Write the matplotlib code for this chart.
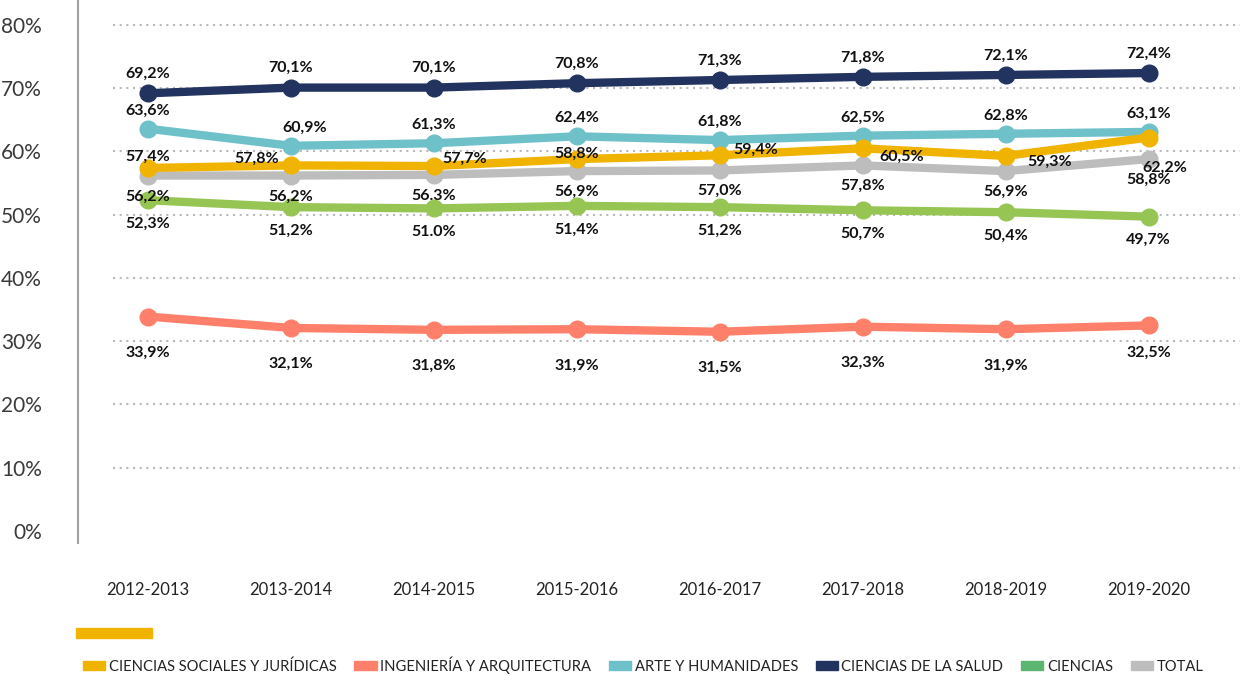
import matplotlib
matplotlib.use("Agg")
import matplotlib.pyplot as plt
from matplotlib.patches import Rectangle

cursos = ["2012-2013", "2013-2014", "2014-2015", "2015-2016",
          "2016-2017", "2017-2018", "2018-2019", "2019-2020"]

sociales = [57.4, 57.8, 57.7, 58.8, 59.4, 60.5, 59.3, 62.2]
ingenieria = [33.9, 32.1, 31.8, 31.9, 31.5, 32.3, 31.9, 32.5]
arte = [63.6, 60.9, 61.3, 62.4, 61.8, 62.5, 62.8, 63.1]
salud = [69.2, 70.1, 70.1, 70.8, 71.3, 71.8, 72.1, 72.4]
ciencias = [52.3, 51.2, 51.0, 51.4, 51.2, 50.7, 50.4, 49.7]
total = [56.2, 56.2, 56.3, 56.9, 57.0, 57.8, 56.9, 58.8]

nombres = ["CIENCIAS SOCIALES Y JURÍDICAS", "INGENIERÍA Y ARQUITECTURA",
           "ARTE Y HUMANIDADES", "CIENCIAS DE LA SALUD", "CIENCIAS", "TOTAL"]
series = [sociales, ingenieria, arte, salud, ciencias, total]
colores = ["#f0b400", "#ff806a", "#6fc1c9", "#22335f", "#96c554", "#bdbdbd"]
colores_leyenda = ["#f0b400", "#ff806a", "#6fc1c9", "#22335f", "#5db572", "#bdbdbd"]

# offsets de las etiquetas (en puntos)
off_salud = [(0, 14)] * 8
off_arte = [(0, 13), (10, 13), (0, 13), (0, 13), (0, 13), (0, 13), (0, 13), (0, 13)]
off_sociales = [(0, 8), (-25, 5), (22, 5), (0, 4), (26, 4), (28, -6), (32, -4), (12, -22)]
off_total = [(0, -15)] * 8
off_ciencias = [(0, -17)] * 8
off_ing = [(0, -26)] * 7 + [(0, -20)]
offsets = [off_sociales, off_ing, off_arte, off_salud, off_ciencias, off_total]
con_punto = {(5, 2), (4, 2)}

fig = plt.figure(figsize=(12.4, 6.75), dpi=100)
ax = fig.add_axes([78 / 1240, 1 - 543 / 675, 1 - 78 / 1240, 543 / 675])

x = list(range(len(cursos)))
ax.set_xlim(-0.49, 7.64)
ax.set_ylim(-1.9, 83.95)

for yv in range(10, 90, 10):
    ax.axhline(yv, xmin=0.03, xmax=1, color="#b8b8b8", lw=1.5,
               ls=(0, (1, 2.2)), zorder=0)

for i, (vals, col) in enumerate(zip(series, colores)):
    ax.plot(x, vals, color=col, lw=6, marker="o", ms=12, zorder=3 + (i == 0))
    for j, v in enumerate(vals):
        txt = f"{v:.1f}%"
        if (i, j) not in con_punto:
            txt = txt.replace(".", ",")
        dx, dy = offsets[i][j]
        ax.annotate(txt, (j, v), xytext=(dx, dy), textcoords="offset points",
                    ha="center", va="center", fontsize=11.5, fontweight="bold",
                    family="Lato", color="#111111", zorder=6)

ax.set_yticks(range(0, 90, 10))
ax.set_yticklabels([f"{t}%" for t in range(0, 90, 10)], family="Lato",
                   fontsize=15, color="#3a3a3a")
ax.set_xticks(x)
ax.set_xticklabels(cursos, family="Lato", fontsize=12, color="#222222")
ax.tick_params(axis="both", length=0)
ax.tick_params(axis="x", pad=28)
ax.tick_params(axis="y", pad=26)

for s in ["top", "right", "bottom"]:
    ax.spines[s].set_visible(False)
ax.spines["left"].set_color("#a0a0a0")
ax.spines["left"].set_linewidth(1.5)

# barra amarilla suelta sobre la leyenda
fig.patches.append(Rectangle((76 / 1240, 1 - 638 / 675), 76 / 1240, 10 / 675,
                             transform=fig.transFigure, color="#f0b400"))

handles = [Rectangle((0, 0), 1, 1, color=c) for c in colores_leyenda]
fig.legend(handles, nombres, loc="center left", bbox_to_anchor=(70 / 1240, 1 - 665 / 675),
           ncol=6, frameon=False, handlelength=1.5, handleheight=0.55,
           handletextpad=0.25, columnspacing=1.2,
           prop={"family": "Lato", "size": 10.6}, labelcolor="#222222")

fig.savefig("out.png", dpi=100)
